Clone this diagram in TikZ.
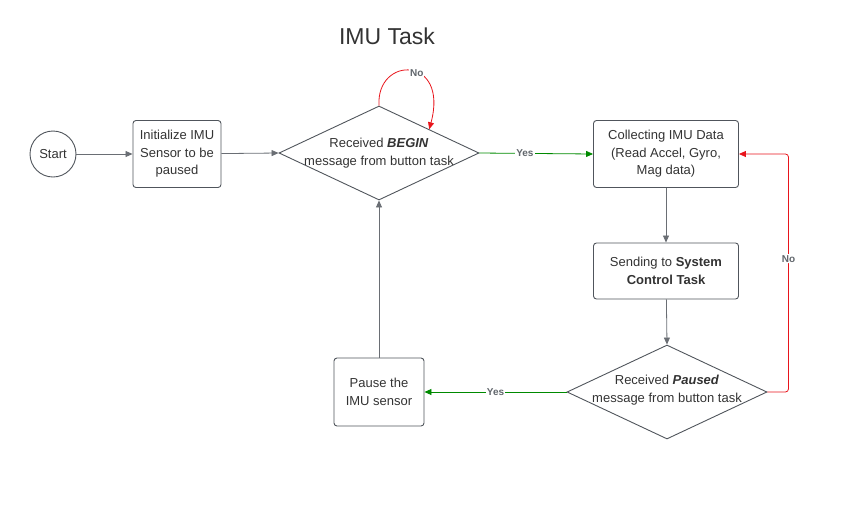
\documentclass[tikz,border=0pt]{standalone}
\usepackage{fontspec}
\setmainfont{Liberation Sans}
\usetikzlibrary{shapes.geometric,arrows.meta}
\definecolor{linegray}{HTML}{50555C}
\definecolor{txtgray}{HTML}{333333}
\definecolor{yesgreen}{HTML}{008A00}
\definecolor{nored}{HTML}{E8141B}
\tikzset{
    every node/.style={font=\fontsize{13}{17.5}\selectfont, text=txtgray}
}
\tikzset{
    procbox/.style={draw=linegray, line width=0.9pt, rounded corners=3pt,
    	align=center, inner sep=0pt},
    decision/.style={draw=linegray, line width=0.9pt, diamond, inner sep=0pt,
    	minimum width=200pt, minimum height=94pt},
    flow/.style={draw=linegray!85, line width=0.8pt,
    	-{Triangle[length=7pt,width=6pt]}},
    tag/.style={font=\fontsize{10}{12}\selectfont\bfseries, text=linegray!90,
    	fill=white, inner sep=1pt}
}

\begin{document}
\begin{tikzpicture}[x=1pt, y=-1pt]
  \useasboundingbox (0,0) rectangle (859,523);
  \node (title) [font=\fontsize{23}{26}\selectfont] at (387,36) {IMU Task};

  \node (start) [circle, draw=linegray, line width=0.9pt, minimum size=46pt,
  	inner sep=0pt] at (53,154) {Start};
  \node (init) [procbox, minimum width=88pt, minimum height=67pt] at (177,154)
  	{Initialize IMU\\Sensor to be\\paused};
  \node (begin) [decision] at (379,153) {};
  \node (begintxt) [align=center] at (379,153)
  	{Received \textbf{\textit{BEGIN}}\\message from button task};
  \node (collect) [procbox, minimum width=145pt, minimum height=67pt] at (666,154)
  	{Collecting IMU Data\\(Read Accel, Gyro,\\Mag data)};
  \node (send) [procbox, minimum width=145pt, minimum height=56pt] at (666,271)
  	{Sending to \textbf{System}\\\textbf{Control Task}};
  \node (paused) [decision] at (667,392) {};
  \node (pausedtxt) [align=center] at (667,390)
  	{Received \textbf{\textit{Paused}}\\message from button task};
  \node (pause) [procbox, minimum width=90pt, minimum height=68pt] at (379,392)
  	{Pause the\\IMU sensor};

  \draw [flow] (start) -- (init);
  \draw [flow] (init) -- (begin.west);
  \draw [flow, draw=yesgreen] (begin.east) -- node [tag, pos=0.4] {Yes} (collect.west);
  \draw [flow] (collect) -- (send);
  \draw [flow] (send) -- (paused.north);
  \draw [flow, draw=yesgreen] (paused.west) -- node [tag, pos=0.5] {Yes} (pause.east);
  \draw [flow] (pause) -- (begin.south);
  \draw [flow, draw=nored, rounded corners=3pt] (paused.east) -- ++(21,0)
  	|- node [tag, pos=0.28] {No} (collect.east);
  \draw [flow, draw=nored] (begin.north) .. controls +(-3,-50) and +(20,-74) ..
  	node [tag, pos=0.57] {No} (begin.north east);
\end{tikzpicture}
\end{document}
